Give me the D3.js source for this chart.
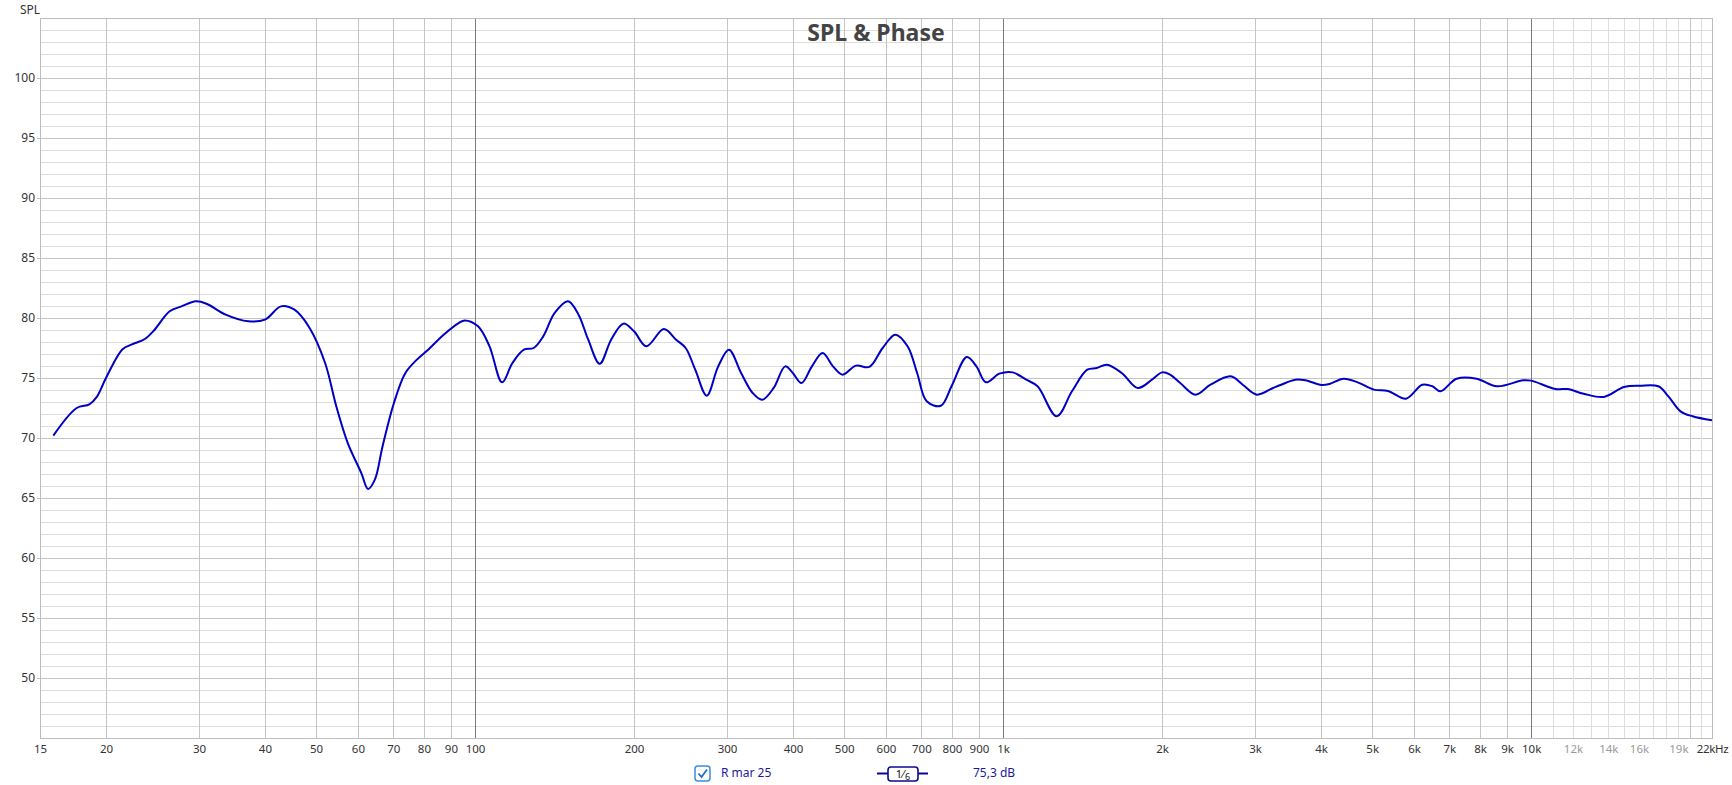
<!DOCTYPE html>
<html>
<head>
<meta charset="utf-8">
<script src="https://cdn.jsdelivr.net/npm/d3@7"></script>
<style>
  body { margin: 0; background: #fff; }
  text { font-family: "Noto Sans", "Open Sans", sans-serif; }
</style>
</head>
<body>
<script>
var freq = [15.9, 17.6, 18.6, 19.2, 20, 21.5, 22.4, 23.7, 24.7, 26.4, 27.8, 29.6, 31, 33.7, 37.2, 40, 42.9, 45.5, 48.6, 52,
  54.6, 57.4, 60.9, 62.7, 64.6, 66.8, 70.2, 73.8, 77.6, 81.5, 87.2, 93.1, 95.6, 101.3, 106.5, 112.5, 117.7, 123.7, 129.1, 134.6,
  141.5, 150, 157, 163.8, 172.2, 181, 190.9, 200, 211, 227.8, 240.3, 250.5, 261.2, 274.6, 288.7, 302.5, 319, 335.5, 349.8, 367.7,
  386.6, 399.6, 415.2, 434.4, 455.2, 476.2, 496.5, 526.4, 557.9, 591.4, 625, 659.2, 687.3, 716.6, 762.1, 798.6, 853.7, 890, 928, 983.7,
  1043, 1106, 1162, 1263, 1350, 1443, 1505, 1572, 1677, 1799, 1914, 2000, 2071, 2165, 2314, 2470, 2697, 2843, 3023, 3244,
  3360, 3574, 3735, 4007, 4150, 4414, 4693, 5036, 5357, 5797, 6219, 6500, 6732, 7223, 7886, 8611, 9654, 10000, 11110, 11720,
  12570, 13730, 14990, 16080, 17410, 18190, 19180, 20210, 22000];
var spl = [70.2, 72.5, 72.8, 73.4, 75.0, 77.4, 77.8, 78.25, 79.0, 80.56, 80.97, 81.39, 81.19, 80.28, 79.72, 79.86, 80.97, 80.69, 79.17, 76.25,
  72.64, 69.58, 67.08, 65.75, 66.53, 69.3, 72.92, 75.42, 76.53, 77.36, 78.61, 79.58, 79.8, 79.31, 77.64, 74.64, 76.25, 77.36, 77.5, 78.47,
  80.42, 81.39, 80.28, 78.19, 76.19, 78.19, 79.53, 78.89, 77.64, 79.08, 78.19, 77.5, 75.69, 73.53, 75.97, 77.36, 75.42, 73.75, 73.19, 74.17,
  75.97, 75.42, 74.58, 75.97, 77.08, 75.97, 75.28, 76.03, 75.92, 77.5, 78.61, 77.64, 75.42, 73.06, 72.69, 74.31, 76.75, 75.97, 74.64, 75.36,
  75.47, 74.86, 74.31, 71.81, 73.89, 75.69, 75.83, 76.11, 75.42, 74.17, 74.86, 75.47, 75.28, 74.58, 73.61, 74.44, 75.14, 74.44, 73.61, 74.17,
  74.44, 74.86, 74.81, 74.42, 74.5, 74.94, 74.64, 74.03, 73.92, 73.28, 74.44, 74.31, 73.89, 74.94, 74.94, 74.31, 74.81, 74.78, 74.08, 74.08,
  73.69, 73.42, 74.25, 74.36, 74.31, 73.47, 72.22, 71.81, 71.47];

var xTicks = [15, 20, 30, 40, 50, 60, 70, 80, 90, 100, 200, 300, 400, 500, 600, 700, 800, 900,
  1000, 2000, 3000, 4000, 5000, 6000, 7000, 8000, 9000, 10000, 12000, 14000, 16000, 19000, 22000];
var xTickLabels = ["15", "20", "30", "40", "50", "60", "70", "80", "90", "100", "200", "300", "400", "500", "600", "700", "800", "900",
  "1k", "2k", "3k", "4k", "5k", "6k", "7k", "8k", "9k", "10k", "12k", "14k", "16k", "19k", "22kHz"];
var greyLabels = [12000, 14000, 16000, 19000];
var yTicks = [50, 55, 60, 65, 70, 75, 80, 85, 90, 95, 100];

var width = 1732, height = 785;
var svg = d3.select("body").append("svg").attr("width", width).attr("height", height);

var x = d3.scaleLog().domain([15, 22000]).range([40, 1712]);
var y = d3.scaleLinear().domain([45, 105]).range([738, 18]);

var grid = svg.append("g");

// horizontal grid, every dB, heavier every 5
d3.range(46, 105).forEach(function (v) {
  grid.append("line")
    .attr("x1", 40).attr("x2", 1712)
    .attr("y1", y(v) + 0.5).attr("y2", y(v) + 0.5)
    .attr("stroke", v % 5 == 0 ? "#c4c4c4" : "#dedede");
});

// vertical grid
var vlines = [];
[10, 100, 1000].forEach(function (dec) {
  for (var k = 2; k <= 10; k++) vlines.push(dec * k);
});
for (var k = 11; k <= 21; k++) vlines.push(k * 1000);
vlines.forEach(function (f) {
  var c = "#c4c4c4";
  if (f == 100 || f == 1000 || f == 10000) c = "#7a7a7a";
  else if (f > 10000 && f != 20000) c = "#dedede";
  grid.append("line")
    .attr("x1", Math.round(x(f)) + 0.5).attr("x2", Math.round(x(f)) + 0.5)
    .attr("y1", 18).attr("y2", 738)
    .attr("stroke", c);
});

// frame
svg.append("rect")
  .attr("x", 40.5).attr("y", 18.5).attr("width", 1672).attr("height", 720)
  .attr("fill", "none").attr("stroke", "#bdbdbd");

// axes
var xAxis = d3.axisBottom(x).tickValues(xTicks).tickSize(0).tickPadding(7)
  .tickFormat(function (d, i) { return xTickLabels[i]; });
var gx = svg.append("g").attr("transform", "translate(0,738)").call(xAxis);
gx.select(".domain").remove();
gx.selectAll("text")
  .attr("font-size", 11.5)
  .attr("font-family", "Noto Sans, sans-serif")
  .attr("fill", function (d) { return greyLabels.indexOf(d) >= 0 ? "#9a9a9a" : "#333"; });
gx.selectAll(".tick").filter(function (d) { return d == 22000; }).select("text").attr("letter-spacing", -0.3);

var yAxis = d3.axisLeft(y).tickValues(yTicks).tickSize(3).tickPadding(2);
var gy = svg.append("g").attr("transform", "translate(40,0)").call(yAxis);
gy.select(".domain").remove();
gy.selectAll("line").attr("stroke", "#bdbdbd");
gy.selectAll("text").attr("font-size", 12).attr("font-family", "Noto Sans, sans-serif").attr("fill", "#333");

svg.append("text").attr("x", 20).attr("y", 14).attr("font-size", 12).attr("fill", "#333").text("SPL");

svg.append("text").attr("x", 876).attr("y", 41).attr("text-anchor", "middle")
  .attr("font-size", 23).attr("font-weight", "bold").attr("fill", "#444").text("SPL & Phase");

// response curve
var pts = freq.map(function (f, i) { return [f, spl[i]]; });
var line = d3.line()
  .x(function (d) { return x(d[0]); })
  .y(function (d) { return y(d[1]); })
  .curve(d3.curveCatmullRom.alpha(0.5));
svg.append("path").datum(pts)
  .attr("d", line)
  .attr("fill", "none")
  .attr("stroke", "#0000c4")
  .attr("stroke-width", 2);

// legend row
var leg = svg.append("g");
leg.append("rect").attr("x", 695).attr("y", 766).attr("width", 15).attr("height", 15).attr("rx", 3)
  .attr("fill", "#fff").attr("stroke", "#3c8ce0").attr("stroke-width", 1.5);
leg.append("path").attr("d", "M698.5,773.5 L701.5,777 L707,769.5")
  .attr("fill", "none").attr("stroke", "#1e6fd0").attr("stroke-width", 1.8);
leg.append("text").attr("x", 721).attr("y", 777).attr("font-size", 12).attr("fill", "#1a1aa0").text("R mar 25");
leg.append("line").attr("x1", 877).attr("x2", 928).attr("y1", 773.5).attr("y2", 773.5)
  .attr("stroke", "#0a0a90").attr("stroke-width", 2);
leg.append("rect").attr("x", 888).attr("y", 767).attr("width", 30).attr("height", 14).attr("rx", 3)
  .attr("fill", "#fff").attr("stroke", "#0a0a90").attr("stroke-width", 1.6);
var frac = leg.append("text").attr("x", 903).attr("y", 778).attr("text-anchor", "middle")
  .attr("font-size", 11).attr("fill", "#111");
frac.append("tspan").text("1");
frac.append("tspan").attr("dx", 0.5).text("⁄");
frac.append("tspan").attr("dx", 1).attr("dy", 1.5).attr("font-size", 9).text("6");
leg.append("text").attr("x", 973).attr("y", 777).attr("font-size", 12).attr("fill", "#1a1aa0").text("75,3 dB");
</script>
</body>
</html>
